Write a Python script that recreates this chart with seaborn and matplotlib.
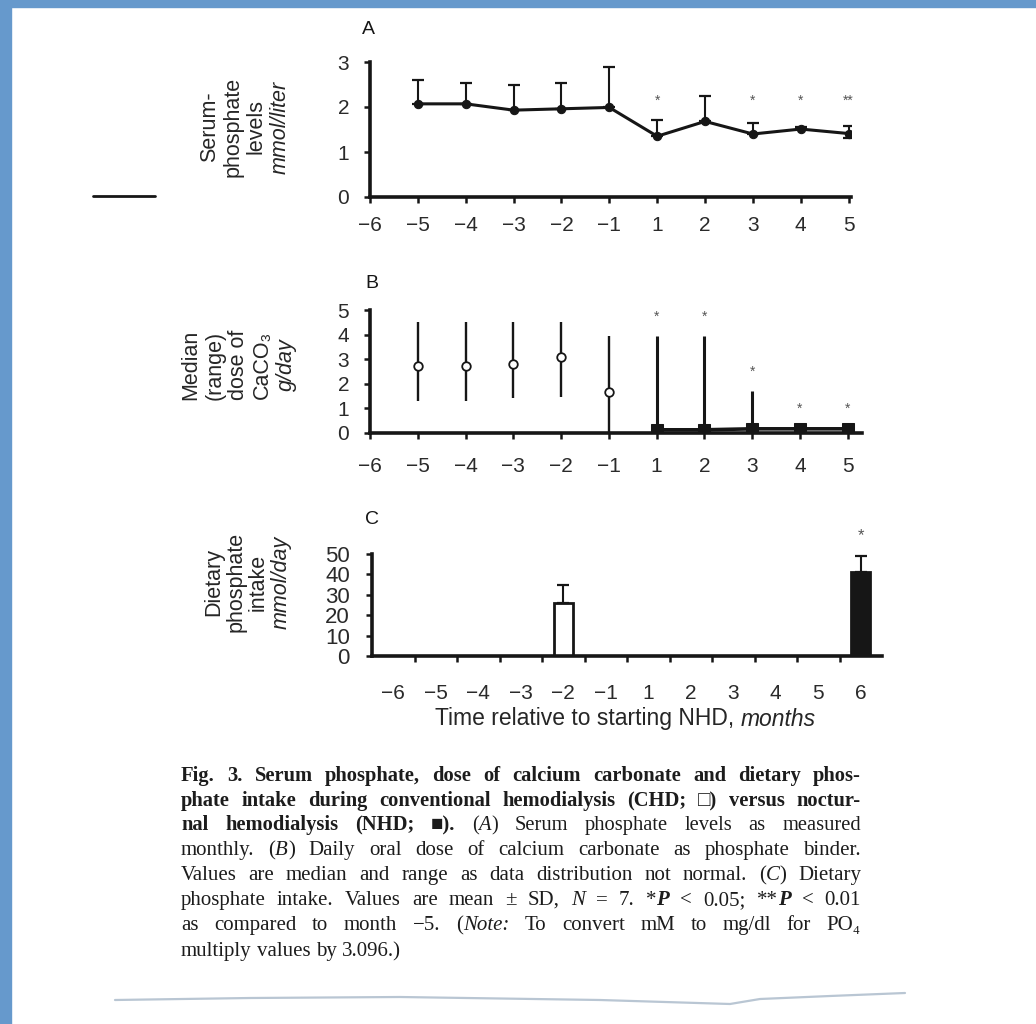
import matplotlib
matplotlib.use("Agg")
import matplotlib.pyplot as plt
import seaborn as sns
import numpy as np
import pandas as pd
from matplotlib.patches import Rectangle
from matplotlib.lines import Line2D

sns.set_theme(style="ticks")
plt.rcParams["font.family"] = ["Liberation Sans", "DejaVu Sans"]

W, H = 1036, 1024
INK = "#161616"
SERIF = ["Liberation Serif", "DejaVu Serif"]

# ---------------- data ----------------
months_ab = ["−6", "−5", "−4", "−3", "−2", "−1", "1", "2", "3", "4", "5"]

# Panel A: serum phosphate, mean + SD (mmol/liter)
a_months = ["−5", "−4", "−3", "−2", "−1", "1", "2", "3", "4", "5"]
a_mean = [2.07, 2.07, 1.93, 1.96, 1.99, 1.35, 1.68, 1.40, 1.51, 1.41]
a_err_up = [0.52, 0.47, 0.56, 0.58, 0.89, 0.36, 0.56, 0.24, 0.05, 0.17]
a_err_lo = [0, 0, 0, 0, 0, 0, 0, 0, 0, 0.09]
a_sig = ["", "", "", "", "", "*", "", "*", "*", "**"]

# Panel B: CaCO3 dose, median (range) g/day
b_chd_months = ["−5", "−4", "−3", "−2", "−1"]
b_chd_median = [2.72, 2.72, 2.79, 3.08, 1.65]
b_chd_min = [1.31, 1.31, 1.43, 1.47, 0.0]
b_chd_max = [4.53, 4.53, 4.53, 4.53, 3.93]
b_nhd_months = ["1", "2", "3", "4", "5"]
b_nhd_median = [0.13, 0.13, 0.17, 0.17, 0.17]
b_nhd_min = [0.0, 0.0, 0.0, 0.0, 0.0]
b_nhd_max = [3.93, 3.93, 1.69, 0.17, 0.17]
b_nhd_sig = ["*", "*", "*", "*", "*"]

# Panel C: dietary phosphate intake, mean + SD (mmol/day)
c_months = ["−6", "−5", "−4", "−3", "−2", "−1", "1", "2", "3", "4", "5", "6"]
c_bar_months = ["−2", "6"]
c_groups = ["CHD", "NHD"]
c_mean = [26, 41]
c_sd = [9, 8]
c_sig = ["", "*"]

pos = {m: i for i, m in enumerate(months_ab)}

fig = plt.figure(figsize=(W / 100, H / 100), dpi=100)
fig.patch.set_facecolor("white")
renderer = fig.canvas.get_renderer()

# blue scan border
fig.add_artist(Rectangle((0, 0), 11 / W, 1, transform=fig.transFigure,
                         color="#6699cc", zorder=0))
fig.add_artist(Rectangle((0, 1 - 7 / H), 1, 7 / H, transform=fig.transFigure,
                         color="#6699cc", zorder=0))


def style_axes(ax, xpad, ypad):
    sns.despine(ax=ax)
    for s in ("left", "bottom"):
        ax.spines[s].set_linewidth(2.6)
        ax.spines[s].set_color(INK)
    ax.set_facecolor("none")
    ax.tick_params(axis="both", length=4, width=1.8, colors=INK,
                   labelsize=15, labelcolor="#2a2a2a")
    ax.tick_params(axis="x", pad=xpad)
    ax.tick_params(axis="y", pad=ypad)
    ax.set_xlabel("")
    ax.set_ylabel("")


# ---------------- Panel A ----------------
axA = fig.add_axes([370 / W, 1 - 197 / H, 481 / W, 135 / H])
xa = [pos[m] for m in a_months]
sns.lineplot(x=xa, y=a_mean, ax=axA, color=INK, lw=2.2, marker="o",
             markersize=6, markeredgecolor=INK)
axA.errorbar(xa, a_mean, yerr=[a_err_lo, a_err_up], fmt="none", ecolor=INK,
             elinewidth=1.5, capsize=4, capthick=1.6)
for x, s in zip(xa, a_sig):
    if s:
        axA.text(x, 2.13, s, ha="center", va="center", fontsize=10, color="#555")
axA.set_xlim(0, 10.05)
axA.set_ylim(0, 3)
axA.set_xticks(range(len(months_ab)))
axA.set_xticklabels(months_ab)
axA.set_yticks([0, 1, 2, 3])
style_axes(axA, 10, 11)

# ---------------- Panel B ----------------
axB = fig.add_axes([370 / W, 1 - 433 / H, 492 / W, 123 / H])
xc = [pos[m] for m in b_chd_months]
xn = [pos[m] for m in b_nhd_months]
axB.vlines(xc, b_chd_min, b_chd_max, color=INK, lw=1.7)
axB.vlines(xn, b_nhd_min, b_nhd_max, color=INK, lw=2.2)
sns.lineplot(x=xn, y=b_nhd_median, ax=axB, color=INK, lw=2.6, marker="s",
             markersize=8, markeredgecolor=INK)
sns.scatterplot(x=xc, y=b_chd_median, ax=axB, marker="o", s=38,
                facecolor="white", edgecolor=INK, linewidth=1.3, zorder=4)
for x, top, s in zip(xn, b_nhd_max, b_nhd_sig):
    axB.text(x, top + 0.8, s, ha="center", va="center", fontsize=10, color="#555")
axB.set_xlim(0, 10.3)
axB.set_ylim(0, 5)
axB.set_xticks(range(len(months_ab)))
axB.set_xticklabels(months_ab)
axB.set_yticks([0, 1, 2, 3, 4, 5])
style_axes(axB, 13, 11)

# ---------------- Panel C ----------------
axC = fig.add_axes([372 / W, 1 - 656 / H, 510 / W, 102 / H])
df_c = pd.DataFrame({"month": c_bar_months, "intake": c_mean, "group": c_groups})
sns.barplot(data=df_c, x="month", y="intake", hue="group", order=c_months,
            palette={"CHD": "white", "NHD": INK}, edgecolor=INK, linewidth=2,
            width=0.45, dodge=False, legend=False, errorbar=None, ax=axC)
xcb = [c_months.index(m) for m in c_bar_months]
axC.errorbar(xcb, c_mean, yerr=[[0] * len(c_sd), c_sd], fmt="none",
             ecolor=INK, elinewidth=1.5, capsize=4, capthick=1.6)
for x, m, sd, s in zip(xcb, c_mean, c_sd, c_sig):
    if s:
        axC.text(x, m + sd + 10, s, ha="center", va="center", fontsize=12,
                 color="#555", clip_on=False)
axC.set_xlim(-0.5, 11.5)
axC.set_ylim(0, 50)
axC.set_yticks([0, 10, 20, 30, 40, 50])
axC.set_xticks(range(len(c_months)))
axC.set_xticklabels(c_months)
axC.set_xticks(np.arange(0.5, len(c_months) - 1, 1.0), minor=True)
style_axes(axC, 20, 12)
axC.tick_params(axis="x", which="major", length=0)
axC.tick_params(axis="x", which="minor", length=4, width=1.8, color=INK)
axC.tick_params(axis="y", labelsize=16)

# ---------------- axis labels (rotated, multi-line) ----------------
def ylabel_block(xs, yc, lines):
    for x, (txt, it) in zip(xs, lines):
        fig.text(x / W, 1 - yc / H, txt, rotation=90, ha="center", va="center",
                 fontsize=15.5, color="#262626",
                 style="italic" if it else "normal")

ylabel_block([210, 233, 256, 280], 127,
             [("Serum-", False), ("phosphate", False), ("levels", False),
              ("mmol/liter", True)])
ylabel_block([191, 215, 239, 262, 286], 365,
             [("Median", False), ("(range)", False), ("dose of", False),
              ("CaCO₃", False), ("g/day", True)])
ylabel_block([214, 236, 258, 281], 582,
             [("Dietary", False), ("phosphate", False), ("intake", False),
              ("mmol/day", True)])

fig.text(368 / W, 1 - 29 / H, "A", fontsize=14, ha="center", va="center", color=INK)
fig.text(372 / W, 1 - 283 / H, "B", fontsize=14, ha="center", va="center", color=INK)
fig.text(372 / W, 1 - 520 / H, "C", fontsize=14, ha="center", va="center", color=INK)

# x axis title, centred as a whole
t1 = fig.text(0, 1 - 719 / H, "Time relative to starting NHD, ",
              fontsize=16.5, ha="left", va="center", color="#262626")
t2 = fig.text(0, 1 - 719 / H, "months", fontsize=16.5, style="italic",
              ha="left", va="center", color="#262626")
w1 = t1.get_window_extent(renderer=renderer).width
w2 = t2.get_window_extent(renderer=renderer).width
xs = 625 - (w1 + w2) / 2
t1.set_x(xs / W)
t2.set_x((xs + w1) / W)

# stray mark on the left
fig.add_artist(Line2D([93 / W, 155 / W], [1 - 196 / H, 1 - 196 / H],
                      transform=fig.transFigure, color=INK, lw=2))
# torn paper edge
fig.add_artist(Line2D(np.array([115, 250, 400, 600, 730, 760, 830, 905]) / W,
                      1 - np.array([1000, 998, 997, 1000, 1004, 999, 996, 993]) / H,
                      transform=fig.transFigure, color="#b9c6d3", lw=1.6))

# ---------------- caption (justified) ----------------
def caption_line(y_px, segs, justify=True, size=14.5, x0=181, x1=861):
    words = [[]]
    for text, st in segs:
        parts = text.split(" ")
        for k, p in enumerate(parts):
            if k > 0:
                words.append([])
            if p:
                words[-1].append((p, st))
    words = [w for w in words if w]
    placed, widths = [], []
    for w in words:
        ts, ww = [], 0.0
        for chunk, st in w:
            t = fig.text(0, 1 - y_px / H, chunk, fontsize=size, family=SERIF,
                         weight="bold" if "b" in st else "normal",
                         style="italic" if "i" in st else "normal",
                         color="#1c1c1c", va="baseline", ha="left")
            wd = t.get_window_extent(renderer=renderer).width
            ts.append((t, wd))
            ww += wd
        placed.append(ts)
        widths.append(ww)
    if justify and len(words) > 1:
        gap = ((x1 - x0) - sum(widths)) / (len(words) - 1)
    else:
        gap = size * 0.25 * 100 / 72
    x = x0
    for ts in placed:
        for t, wd in ts:
            t.set_x(x / W)
            x += wd
        x += gap


caption = [
    [("Fig. 3. Serum phosphate, dose of calcium carbonate and dietary phos-", "b")],
    [("phate intake during conventional hemodialysis (CHD; □) versus noctur-", "b")],
    [("nal hemodialysis (NHD; ■).", "b"), (" (", "r"), ("A", "i"),
     (") Serum phosphate levels as measured", "r")],
    [("monthly. (", "r"), ("B", "i"),
     (") Daily oral dose of calcium carbonate as phosphate binder.", "r")],
    [("Values are median and range as data distribution not normal. (", "r"),
     ("C", "i"), (") Dietary", "r")],
    [("phosphate intake. Values are mean ± SD, ", "r"), ("N", "i"),
     (" = 7. *", "r"), ("P", "bi"), (" < 0.05; **", "r"), ("P", "bi"),
     (" < 0.01", "r")],
    [("as compared to month −5. (", "r"), ("Note:", "i"),
     (" To convert mM to mg/dl for PO₄", "r")],
    [("multiply values by 3.096.)", "r")],
]
baselines = [781, 806, 830, 855, 880, 905, 930, 956]
sizes = [14.8, 14.8, 14.8, 15.0, 15.0, 15.0, 15.0, 15.0]
for i, (yb, segs, sz) in enumerate(zip(baselines, caption, sizes)):
    caption_line(yb, segs, justify=(i < len(caption) - 1), size=sz)

fig.savefig("out.png", dpi=100, facecolor="white")
